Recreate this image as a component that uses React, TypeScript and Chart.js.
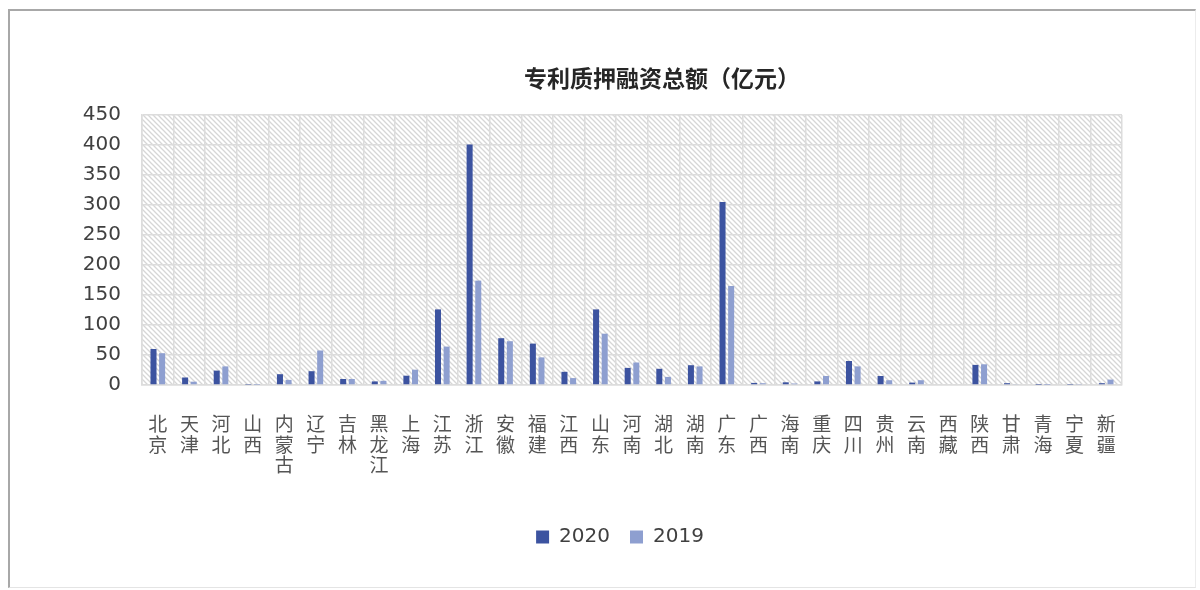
import React, { useEffect, useRef } from 'react';
import { Chart, registerables } from 'chart.js';

Chart.register(...registerables);

const TITLE = '专利质押融资总额（亿元）';

const categories = [
  '北京', '天津', '河北', '山西', '内蒙古', '辽宁', '吉林', '黑龙江', '上海', '江苏',
  '浙江', '安徽', '福建', '江西', '山东', '河南', '湖北', '湖南', '广东', '广西',
  '海南', '重庆', '四川', '贵州', '云南', '西藏', '陕西', '甘肃', '青海', '宁夏', '新疆',
];

const series2020 = [
  60, 12.5, 24, 0.5, 18, 23, 10, 6, 15.5, 126,
  401, 78, 69, 22, 126, 28.5, 27, 33, 305, 3.5,
  4.5, 6, 40, 15, 4, 0, 33.5, 3, 0.3, 0.5, 3,
];

const series2019 = [
  53, 5.5, 31, 0.3, 8.5, 57.5, 10, 7, 25.5, 64,
  174, 73, 46, 11.5, 85.5, 37.5, 13.5, 31, 165, 3,
  2.5, 15, 31, 8, 8, 0, 34.5, 1, 0.2, 0.8, 9,
];

const seriesNames = ['2020', '2019'];
const Y_MIN = 0;
const Y_MAX = 450;
const Y_STEP = 50;

const COLOR_2020 = '#3c53a0';
const COLOR_2019 = '#8e9fd0';
const GRID = '#dcdcdc';

const hatchPlugin = {
  id: 'hatchBg',
  beforeDraw(chart: any) {
    const { ctx, chartArea: a } = chart;
    const tile = document.createElement('canvas');
    tile.width = 5;
    tile.height = 5;
    const tc = tile.getContext('2d')!;
    tc.fillStyle = '#ffffff';
    tc.fillRect(0, 0, 5, 5);
    tc.strokeStyle = '#d6d6d6';
    tc.lineWidth = 1.3;
    tc.beginPath();
    tc.moveTo(-1, -1);
    tc.lineTo(6, 6);
    tc.moveTo(4, -1);
    tc.lineTo(6, 1);
    tc.moveTo(-1, 4);
    tc.lineTo(1, 6);
    tc.stroke();
    const pat = ctx.createPattern(tile, 'repeat');
    ctx.save();
    ctx.fillStyle = pat;
    ctx.fillRect(a.left, a.top, a.right - a.left, a.bottom - a.top);
    ctx.restore();
  },
};

const legendShiftPlugin = {
  id: 'legendShift',
  afterLayout(chart: any) {
    const lg = chart.legend;
    if (lg) {
      lg.left += 34;
      lg.right += 34;
    }
  },
};

const titlePlugin = {
  id: 'customTitle',
  afterDraw(chart: any) {
    const { ctx } = chart;
    ctx.save();
    ctx.font = 'bold 23px "Noto Sans CJK SC"';
    ctx.fillStyle = '#262626';
    ctx.textAlign = 'center';
    ctx.textBaseline = 'middle';
    ctx.fillText(TITLE, 612, 66);
    ctx.restore();
  },
};

export default function App() {
  const ref = useRef<HTMLCanvasElement | null>(null);

  useEffect(() => {
    if (!ref.current) return;
    const chart = new Chart(ref.current, {
      type: 'bar',
      data: {
        labels: categories.map((c) => c.split('')),
        datasets: [
          {
            label: seriesNames[0],
            data: series2020,
            backgroundColor: COLOR_2020,
            categoryPercentage: 0.545,
            barPercentage: 0.7,
          },
          {
            label: seriesNames[1],
            data: series2019,
            backgroundColor: COLOR_2019,
            categoryPercentage: 0.545,
            barPercentage: 0.7,
          },
        ],
      },
      options: {
        animation: false,
        responsive: false,
        maintainAspectRatio: false,
        layout: { padding: { top: 103, right: 68, bottom: 31, left: 0 } },
        plugins: {
          title: { display: false },
          tooltip: { enabled: false },
          legend: {
            position: 'bottom',
            labels: {
              boxWidth: 13,
              boxHeight: 13,
              padding: 20,
              color: '#404040',
              font: { family: '"DejaVu Sans"', size: 20 },
            },
          },
        },
        scales: {
          x: {
            grid: { color: GRID, lineWidth: 1.5, drawTicks: false, offset: true },
            border: { color: GRID, width: 1.5 },
            ticks: {
              color: '#555555',
              autoSkip: false,
              maxRotation: 0,
              minRotation: 0,
              padding: 28,
              font: { family: '"Noto Sans CJK SC"', size: 19, lineHeight: 1.1 },
            },
            afterFit: (s: any) => {
              s.height = 122;
            },
          },
          y: {
            min: Y_MIN,
            max: Y_MAX,
            grid: { color: GRID, lineWidth: 1.5, drawTicks: false },
            border: { color: GRID, width: 1.5 },
            ticks: {
              stepSize: Y_STEP,
              color: '#404040',
              padding: 21,
              font: { family: '"DejaVu Sans"', size: 20 },
            },
            afterFit: (s: any) => {
              s.width = 92;
            },
          },
        },
      },
      plugins: [hatchPlugin, legendShiftPlugin, titlePlugin],
    });
    return () => chart.destroy();
  }, []);

  return (
    <div style={{ position: 'absolute', left: 0, top: 0, width: 1200, height: 590, background: '#ffffff' }}>
      <div
        style={{
          position: 'absolute',
          left: 8,
          top: 9,
          width: 1188,
          height: 579,
          borderTop: '2px solid #a8a8a8',
          borderLeft: '2px solid #a8a8a8',
          borderRight: '1px solid #ececec',
          borderBottom: '1px solid #e4e4e4',
          boxSizing: 'border-box',
        }}
      />
      <canvas
        ref={ref}
        width={1140}
        height={576}
        style={{ position: 'absolute', left: 50, top: 12, width: 1140, height: 576 }}
      />
    </div>
  );
}
